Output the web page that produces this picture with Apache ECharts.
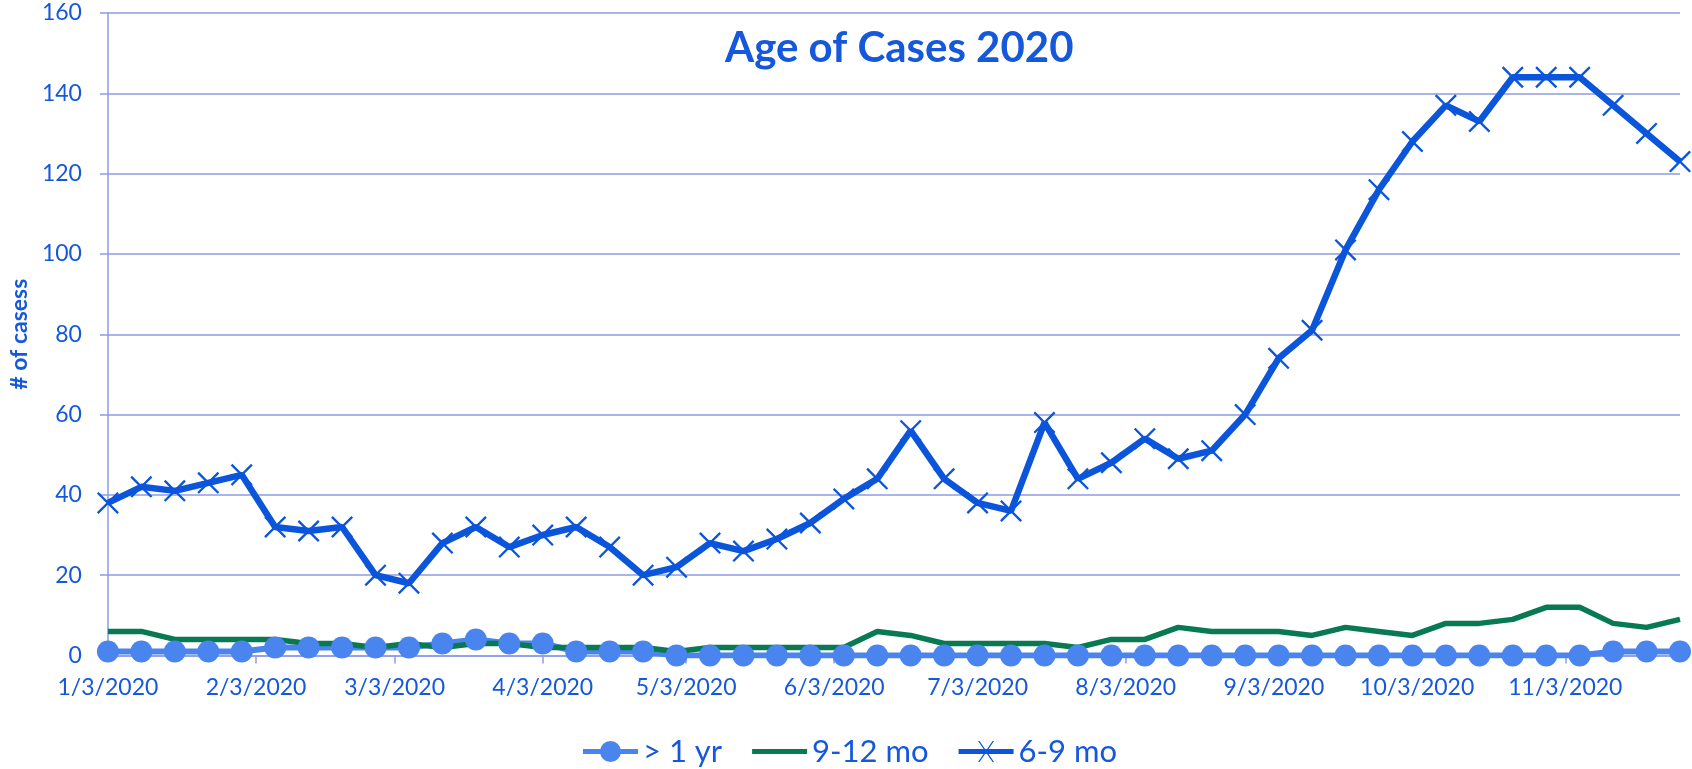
<!DOCTYPE html>
<html>
<head>
<meta charset="utf-8">
<script src="https://cdn.jsdelivr.net/npm/echarts@6/dist/echarts.min.js"></script>
<style>
  html, body { margin: 0; padding: 0; background: #fff; }
  #chart { width: 1692px; height: 769px; }
</style>
</head>
<body>
<div id="chart"></div>
<script>
// weekly counts, first week is 1/3/2020
const firstWeek = new Date(2020, 0, 3);
const weekCount = 48;

const overOneYear = [1, 1, 1, 1, 1, 2, 2, 2, 2, 2, 3, 4, 3, 3, 1, 1, 1,
    0, 0, 0, 0, 0, 0, 0, 0, 0, 0, 0, 0, 0, 0, 0, 0, 0, 0, 0, 0, 0, 0, 0, 0, 0, 0, 0, 0,
    1, 1, 1];
const nineToTwelve = [6, 6, 4, 4, 4, 4, 3, 3, 2, 3, 2, 3, 3, 2, 2, 2,
    2, 1, 2, 2, 2, 2, 2, 6, 5, 3, 3, 3, 3, 2, 4, 4, 7,
    6, 6, 6, 5, 7, 6, 5, 8, 8, 9, 12, 12, 8, 7, 9];
const sixToNine = [38, 42, 41, 43, 45, 32, 31, 32, 20, 18, 28, 32, 27, 30, 32, 27,
    20, 22, 28, 26, 29, 33, 39, 44, 56, 44, 38, 36, 58, 44, 48, 54, 49, 51,
    60, 74, 81, 101, 116, 128, 137, 133, 144, 144, 144, 137, 130, 123];

const seriesNames = ['> 1 yr', '9-12 mo', '6-9 mo'];

// daily categories so month labels can sit on the 3rd like a date axis
const days = [];
const dayOfMonth = [];
for (let i = 0; i <= (weekCount - 1) * 7; i++) {
    const d = new Date(firstWeek.getFullYear(), firstWeek.getMonth(), firstWeek.getDate() + i);
    days.push((d.getMonth() + 1) + '/' + d.getDate() + '/' + d.getFullYear());
    dayOfMonth.push(d.getDate());
}

const toDaily = (values) => values.map((v, i) => [i * 7, v]);

const textBlue = '#1558DC';
const gridColor = '#8E9BE5';
const xMark = 'path://M0,0.75L0.75,0L10,9.25L9.25,10Z M9.25,0L10,0.75L0.75,10L0,9.25Z';

// legend icons: thick line plus the marker, drawn in a 55x21 box
const iconDot = 'path://M0,8L17.5,8L17.5,13L0,13Z M37.5,8L55,8L55,13L37.5,13Z ' +
    'M17,10.5A10.5,10.5 0 1,1 38,10.5A10.5,10.5 0 1,1 17,10.5Z';
const iconLine = 'path://M0,8L55,8L55,13L0,13Z M0,0L0.01,0L0.01,0.01Z M0,21L0.01,21L0.01,20.99Z';
const iconCross = 'path://M0,8L55,8L55,13L0,13Z M19.5,0L21,0L35.5,21L34,21Z M34,0L35.5,0L21,21L19.5,21Z';

const chart = echarts.init(document.getElementById('chart'));

chart.setOption({
    animation: false,
    textStyle: { fontFamily: 'Lato' },
    title: {
        text: 'Age of Cases 2020',
        left: 720,
        top: 22,
        textStyle: { fontFamily: 'Lato', fontWeight: 'bold', fontSize: 42, color: textBlue }
    },
    legend: {
        data: [
            { name: seriesNames[0], icon: iconDot },
            { name: seriesNames[1], icon: iconLine },
            { name: seriesNames[2], icon: iconCross }
        ],
        left: 578,
        top: 731,
        itemWidth: 55,
        itemHeight: 21,
        itemGap: 30,
        textStyle: { fontFamily: 'Lato', fontSize: 31, color: textBlue }
    },
    grid: { left: 81, right: 12, top: 13, bottom: 113.5 },
    xAxis: {
        type: 'category',
        data: days,
        boundaryGap: false,
        axisLine: { lineStyle: { color: gridColor, width: 1.5 } },
        axisTick: {
            interval: (i) => dayOfMonth[i] === 3 && i > 0,
            length: 8,
            lineStyle: { color: gridColor, width: 1.5 }
        },
        axisLabel: {
            interval: (i) => dayOfMonth[i] === 3,
            margin: 21,
            fontSize: 23,
            color: textBlue,
            fontFamily: 'Lato'
        },
        splitLine: { show: false }
    },
    yAxis: {
        type: 'value',
        min: 0,
        max: 160,
        interval: 20,
        name: '# of casess',
        nameLocation: 'middle',
        nameRotate: 90,
        nameGap: 62,
        nameTextStyle: { fontFamily: 'Lato', fontWeight: 'bold', fontSize: 23, color: textBlue },
        axisLine: { show: true, lineStyle: { color: gridColor, width: 1.5 } },
        axisTick: { show: true, length: 8, lineStyle: { color: gridColor, width: 1.5 } },
        axisLabel: { margin: 26, fontSize: 23, color: textBlue, fontFamily: 'Lato' },
        splitLine: { lineStyle: { color: gridColor, width: 1.5 } }
    },
    series: [
        {
            name: seriesNames[0],
            type: 'line',
            data: toDaily(overOneYear),
            symbol: 'circle',
            symbolSize: 22,
            showAllSymbol: true,
            lineStyle: { color: '#4A84EE', width: 6 },
            itemStyle: { color: '#4A84EE' }
        },
        {
            name: seriesNames[1],
            type: 'line',
            data: toDaily(nineToTwelve),
            symbol: 'none',
            lineStyle: { color: '#087A52', width: 5.5 },
            itemStyle: { color: '#087A52' }
        },
        {
            name: seriesNames[2],
            type: 'line',
            data: toDaily(sixToNine),
            symbol: xMark,
            symbolSize: 22,
            showAllSymbol: true,
            lineStyle: { color: '#0B55DB', width: 6.5 },
            itemStyle: { color: '#0B55DB' }
        }
    ]
});
</script>
</body>
</html>
